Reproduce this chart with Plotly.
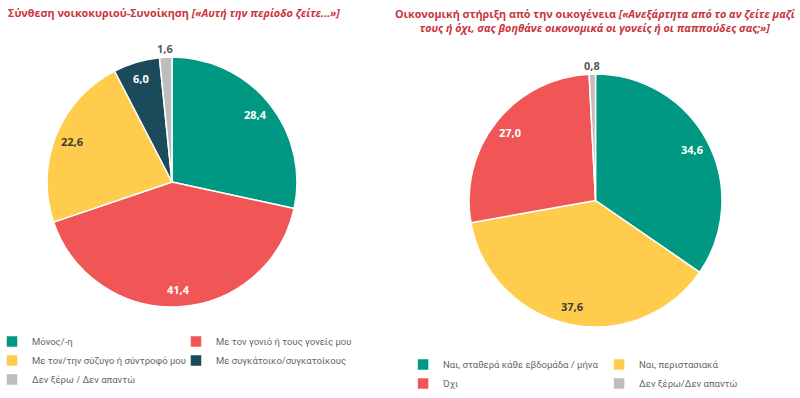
import math
import plotly.graph_objects as go

# ---------------- data ----------------
left_title = "Σύνθεση νοικοκυριού-Συνοίκηση"
left_question = "[«Αυτή την περίοδο ζείτε...»]"
left_labels = ["Μόνος/-η", "Με τον γονιό ή τους γονείς μου",
               "Με τον/την σύζυγο ή σύντροφό μου", "Με συγκάτοικο/συγκατοίκους",
               "Δεν ξέρω / Δεν απαντώ"]
left_values = [28.4, 41.4, 22.6, 6.0, 1.6]

right_title = "Οικονομική στήριξη από την οικογένεια"
right_question_1 = "[«Ανεξάρτητα από το αν ζείτε μαζί"
right_question_2 = "τους ή όχι, σας βοηθάνε οικονομικά οι γονείς ή οι παππούδες σας;»]"
right_labels = ["Ναι, σταθερά κάθε εβδομάδα / μήνα", "Ναι, περιστασιακά",
                "Όχι", "Δεν ξέρω/Δεν απαντώ"]
right_values = [34.6, 37.6, 27.0, 0.8]

# ---------------- style ----------------
TEAL, RED, YELLOW, DARK, GREY = "#009882", "#F05656", "#FFCC4D", "#1B4B5A", "#BDBDBD"
left_colors = [TEAL, RED, YELLOW, DARK, GREY]
right_colors = [TEAL, YELLOW, RED, GREY]
TITLE_COLOR = "#C9353D"
W, H = 800, 398
MARGIN_L, MARGIN_R = 0, 0
PW = W - MARGIN_L - MARGIN_R

def text_color(c):
    return "#3d3d3d" if c in (YELLOW, GREY) else "#ffffff"

# pie geometry in pixels (center x, center y, radius)
left_geo = (172, 182, 125)
right_geo = (595.5, 200.5, 126.5)

def domain(geo):
    cx, cy, r = geo
    return dict(x=[(cx - r - MARGIN_L) / PW, (cx + r - MARGIN_L) / PW],
                y=[1 - (cy + r) / H, 1 - (cy - r) / H])

def label_annotations(values, colors, geo):
    cx, cy, r = geo
    total = sum(values)
    cum = 0
    anns = []
    for v, c in zip(values, colors):
        mid = (cum + v / 2) / total
        cum += v
        th = 2 * math.pi * mid
        outside = v < 3
        k = 1.07 if outside else 0.86
        px = cx + k * r * math.sin(th)
        py = cy - k * r * math.cos(th)
        anns.append(dict(
            x=(px - MARGIN_L) / PW, y=1 - py / H, xref="paper", yref="paper",
            text=f"{v:.1f}".replace(".", ","), showarrow=False,
            xanchor="center", yanchor="middle",
            font=dict(family="Open Sans", size=11, weight="bold",
                      color="#595959" if outside else text_color(c))))
    return anns

fig = go.Figure()
fig.add_trace(go.Pie(
    labels=left_labels, values=left_values, sort=False, direction="clockwise",
    rotation=0, textinfo="none", hoverinfo="label+value",
    marker=dict(colors=left_colors, line=dict(color="white", width=1.5)),
    domain=domain(left_geo), legend="legend"))
fig.add_trace(go.Pie(
    labels=right_labels, values=right_values, sort=False, direction="clockwise",
    rotation=0, textinfo="none", hoverinfo="label+value",
    marker=dict(colors=right_colors, line=dict(color="white", width=1.5)),
    domain=domain(right_geo), legend="legend2"))

annotations = label_annotations(left_values, left_colors, left_geo)
annotations += label_annotations(right_values, right_colors, right_geo)

annotations.append(dict(
    x=6 / PW, y=1 - 13 / H, xref="paper", yref="paper", xanchor="left", yanchor="middle",
    text=f"<b>{left_title} <i>{left_question}</i></b>", showarrow=False,
    font=dict(family="Open Sans", size=10.8, color=TITLE_COLOR)))
annotations.append(dict(
    x=595 / PW, y=1 - 21 / H, xref="paper", yref="paper", xanchor="center", yanchor="middle",
    align="center",
    text=f"<b>{right_title} <i>{right_question_1}</i><br><i>{right_question_2}</i></b>",
    showarrow=False,
    font=dict(family="Open Sans", size=10.8, color=TITLE_COLOR)))

legend_font = dict(family="Roboto", size=9.5, color="#666666")
fig.update_layout(
    width=W, height=H, paper_bgcolor="white", plot_bgcolor="white",
    margin=dict(l=MARGIN_L, r=MARGIN_R, t=0, b=0, autoexpand=False),
    annotations=annotations,
    legend=dict(orientation="h", x=-8 / PW, xanchor="left", y=1 - 327 / H, yanchor="top",
                entrywidthmode="fraction", entrywidth=0.46, font=legend_font,
                bgcolor="rgba(0,0,0,0)", tracegroupgap=0),
    legend2=dict(orientation="h", x=1.0001, xanchor="right", y=1 - 350 / H, yanchor="top",
                 entrywidthmode="fraction", entrywidth=0.49, font=legend_font,
                 bgcolor="rgba(0,0,0,0)", tracegroupgap=0),
    showlegend=True,
)

fig.write_html("out.html", config={"displayModeBar": False},
               post_script="document.body.style.margin='0px';document.body.style.overflow='hidden';")
